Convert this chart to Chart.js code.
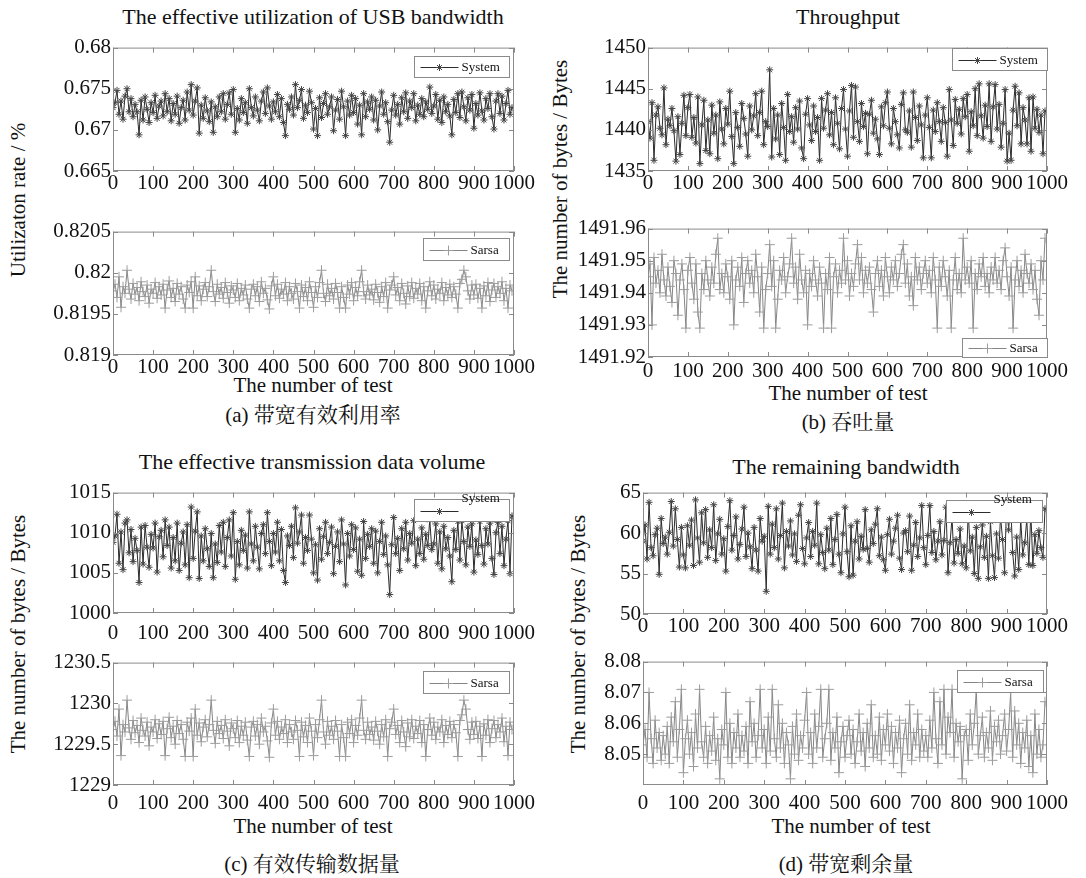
<!DOCTYPE html>
<html>
<head>
<meta charset="utf-8">
<script src="https://cdn.jsdelivr.net/npm/chart.js@4"></script>
<style>
  body { margin: 0; background: #fff; width: 1086px; height: 878px; position: relative; overflow: hidden;
         font-family: "Liberation Serif", "Noto Serif CJK SC", "Noto Sans CJK SC", serif; color: #111; }
  canvas { position: absolute; }
  .t { position: absolute; white-space: nowrap; transform: translate(-50%, -50%); font-size: 21px; }
  .ttl { font-size: 22px; }
  .cap { font-size: 21px; }
  .r { transform: translate(-50%, -50%) rotate(-90deg); }
</style>
</head>
<body>

<div class="t ttl" style="left:313px;top:17px">The effective utilization of USB bandwidth</div>
<div class="t r" style="left:18px;top:200px">Utilizaton rate / %</div>
<div class="t" style="left:313px;top:385px">The number of test</div>
<div class="t cap" style="left:313px;top:413px">(a) 带宽有效利用率</div>

<div class="t ttl" style="left:848px;top:17px">Throughput</div>
<div class="t r" style="left:560px;top:179px">The number of bytes / Bytes</div>
<div class="t" style="left:848px;top:393px">The number of test</div>
<div class="t cap" style="left:848px;top:420px">(b) 吞吐量</div>

<div class="t ttl" style="left:312px;top:462px">The effective transmission data volume</div>
<div class="t r" style="left:18px;top:634px">The number of bytes / Bytes</div>
<div class="t" style="left:313px;top:826px">The number of test</div>
<div class="t cap" style="left:312px;top:862px">(c) 有效传输数据量</div>

<div class="t ttl" style="left:846px;top:467px">The remaining bandwidth</div>
<div class="t r" style="left:578px;top:634px">The number of bytes / Bytes</div>
<div class="t" style="left:851px;top:826px">The number of test</div>
<div class="t cap" style="left:846px;top:862px">(d) 带宽剩余量</div>

<canvas id="a1"></canvas>
<canvas id="a2"></canvas>
<canvas id="b1"></canvas>
<canvas id="b2"></canvas>
<canvas id="c1"></canvas>
<canvas id="c2"></canvas>
<canvas id="d1"></canvas>
<canvas id="d2"></canvas>

<script>
// test number (sampled every 5 tests)
const testIndex = [0,5,10,15,20,25,30,35,40,45,50,55,60,65,70,75,80,85,90,95,
  100,105,110,115,120,125,130,135,140,145,150,155,160,165,170,175,180,185,190,195,
  200,205,210,215,220,225,230,235,240,245,250,255,260,265,270,275,280,285,290,295,
  300,305,310,315,320,325,330,335,340,345,350,355,360,365,370,375,380,385,390,395,
  400,405,410,415,420,425,430,435,440,445,450,455,460,465,470,475,480,485,490,495,
  500,505,510,515,520,525,530,535,540,545,550,555,560,565,570,575,580,585,590,595,
  600,605,610,615,620,625,630,635,640,645,650,655,660,665,670,675,680,685,690,695,
  700,705,710,715,720,725,730,735,740,745,750,755,760,765,770,775,780,785,790,795,
  800,805,810,815,820,825,830,835,840,845,850,855,860,865,870,875,880,885,890,895,
  900,905,910,915,920,925,930,935,940,945,950,955,960,965,970,975,980,985,990,995];

const xTicks = [0,100,200,300,400,500,600,700,800,900,1000];
const xTickLabels = ['0','100','200','300','400','500','600','700','800','900','1000'];

// (a) effective utilization of USB bandwidth
const utilSystem = [
  0.6727,0.6733,0.6748,0.6719,0.6735,0.6713,0.6741,0.6750,0.6722,0.6738,
  0.6716,0.6731,0.6722,0.6694,0.6736,0.6712,0.6740,0.6725,0.6709,0.6733,
  0.6721,0.6742,0.6714,0.6729,0.6735,0.6717,0.6744,0.6722,0.6738,0.6711,
  0.6732,0.6719,0.6741,0.6708,0.6727,0.6736,0.6712,0.6746,0.6724,0.6755,
  0.6718,0.6735,0.6751,0.6696,0.6730,0.6714,0.6739,0.6723,0.6710,0.6734,
  0.6697,0.6728,0.6716,0.6740,0.6722,0.6744,0.6713,0.6731,0.6745,0.6719,
  0.6749,0.6697,0.6726,0.6712,0.6738,0.6721,0.6733,0.6708,0.6750,0.6727,
  0.6717,0.6740,0.6724,0.6711,0.6735,0.6746,0.6720,0.6751,0.6729,0.6713,
  0.6734,0.6722,0.6743,0.6716,0.6738,0.6709,0.6693,0.6731,0.6725,0.6740,
  0.6718,0.6755,0.6727,0.6736,0.6749,0.6714,0.6730,0.6721,0.6747,0.6733,
  0.6701,0.6726,0.6693,0.6739,0.6715,0.6732,0.6744,0.6719,0.6728,0.6740,
  0.6699,0.6724,0.6737,0.6713,0.6747,0.6728,0.6693,0.6735,0.6718,0.6742,
  0.6721,0.6738,0.6707,0.6730,0.6694,0.6744,0.6716,0.6734,0.6725,0.6740,
  0.6712,0.6736,0.6700,0.6729,0.6746,0.6719,0.6733,0.6710,0.6685,0.6724,
  0.6742,0.6718,0.6731,0.6707,0.6739,0.6722,0.6745,0.6714,0.6735,0.6727,
  0.6744,0.6711,0.6730,0.6719,0.6738,0.6716,0.6734,0.6725,0.6752,0.6720,
  0.6729,0.6743,0.6713,0.6736,0.6709,0.6740,0.6722,0.6731,0.6717,0.6694,
  0.6737,0.6721,0.6744,0.6715,0.6746,0.6728,0.6711,0.6739,0.6724,0.6743,
  0.6702,0.6732,0.6718,0.6745,0.6723,0.6712,0.6738,0.6726,0.6744,0.6716,
  0.6701,0.6735,0.6744,0.6720,0.6741,0.6712,0.6732,0.6748,0.6719,0.6727];
const utilSarsa = [
  0.81978,0.81986,0.81970,0.81995,0.81958,0.81983,0.81975,0.82003,0.81980,0.81968,
  0.81987,0.81974,0.81982,0.81966,0.81989,0.81977,0.81971,0.81985,0.81963,0.81980,
  0.81975,0.81988,0.81969,0.81983,0.81973,0.81986,0.81957,0.81979,0.81990,0.81970,
  0.81981,0.81965,0.81987,0.81974,0.81983,0.81968,0.81957,0.81985,0.81976,0.81989,
  0.81957,0.81995,0.81972,0.81984,0.81966,0.81980,0.81988,0.81971,0.81983,0.82003,
  0.81977,0.81965,0.81986,0.81974,0.81982,0.81969,0.81988,0.81976,0.81963,0.81984,
  0.81979,0.81970,0.81987,0.81966,0.81981,0.81973,0.81985,0.81968,0.81957,0.81980,
  0.81986,0.81972,0.81983,0.81965,0.81989,0.81975,0.81981,0.81967,0.81956,0.81984,
  0.81995,0.81972,0.81986,0.81969,0.81980,0.81974,0.81988,0.81966,0.81983,0.81975,
  0.81968,0.81987,0.81977,0.81957,0.81985,0.81971,0.81982,0.81966,0.81989,0.81976,
  0.81958,0.81983,0.81970,0.81988,0.82003,0.81975,0.81965,0.81986,0.81972,0.81981,
  0.81968,0.81987,0.81976,0.81957,0.81983,0.81970,0.81957,0.81985,0.81974,0.81988,
  0.81966,0.81982,0.81972,0.81989,0.82003,0.81977,0.81968,0.81985,0.81973,0.81980,
  0.81967,0.81986,0.81976,0.81964,0.81983,0.81971,0.81988,0.81957,0.81979,0.81985,
  0.81995,0.81973,0.81982,0.81966,0.81987,0.81975,0.81962,0.81984,0.81971,0.81988,
  0.81969,0.81981,0.81974,0.81987,0.81966,0.81983,0.81957,0.81978,0.81989,0.81972,
  0.81985,0.81968,0.81980,0.81975,0.81988,0.81966,0.81982,0.81973,0.81986,0.81970,
  0.81983,0.81974,0.81957,0.81987,0.81992,0.82003,0.81995,0.81978,0.81968,0.81985,
  0.81973,0.81986,0.81969,0.81981,0.81957,0.81984,0.81972,0.81988,0.81965,0.81979,
  0.81987,0.81970,0.81983,0.81975,0.81989,0.81966,0.81981,0.81957,0.81985,0.81978];

// (b) throughput
const thrSystem = [
  1441.0,1439.0,1443.3,1436.3,1441.8,1442.8,1440.2,1439.4,1445.1,1438.2,
  1441.3,1440.5,1442.6,1439.9,1436.2,1441.6,1437.0,1440.8,1444.2,1439.3,
  1442.7,1444.3,1439.1,1441.5,1438.4,1444.0,1435.9,1440.6,1443.6,1437.5,
  1441.2,1437.1,1443.0,1439.6,1441.8,1436.5,1443.4,1440.1,1438.3,1442.6,
  1440.7,1444.7,1439.2,1435.9,1442.1,1440.3,1438.0,1443.2,1441.4,1439.5,
  1436.8,1442.9,1440.0,1441.7,1444.4,1439.3,1442.1,1444.7,1438.2,1441.0,
  1440.4,1447.3,1436.7,1442.6,1438.9,1441.8,1437.0,1443.2,1440.3,1436.3,
  1444.3,1439.8,1441.6,1438.5,1442.7,1440.1,1443.5,1437.8,1436.5,1441.9,
  1443.8,1440.6,1438.7,1442.9,1439.8,1441.5,1436.3,1443.8,1440.2,1442.4,
  1444.4,1439.4,1442.1,1438.2,1443.9,1440.8,1437.7,1442.6,1444.9,1440.1,
  1436.8,1442.3,1445.4,1439.1,1445.2,1441.0,1438.6,1443.2,1440.4,1442.0,
  1437.1,1441.9,1443.6,1439.6,1441.3,1438.9,1437.0,1442.8,1440.5,1443.3,
  1444.6,1440.2,1438.3,1442.6,1441.0,1439.4,1437.8,1443.1,1444.5,1440.0,
  1439.7,1442.3,1437.9,1444.6,1441.5,1438.7,1442.9,1440.6,1436.6,1441.8,
  1443.9,1440.3,1436.6,1442.4,1439.8,1443.3,1441.0,1438.6,1442.7,1440.9,
  1436.8,1444.9,1441.2,1438.1,1443.7,1440.8,1442.5,1439.5,1443.8,1441.6,
  1444.3,1437.4,1442.2,1440.5,1445.0,1439.3,1445.6,1441.7,1439.0,1443.0,
  1440.4,1445.6,1438.6,1442.8,1445.5,1440.1,1443.1,1437.9,1440.8,1444.9,
  1436.2,1439.6,1436.3,1442.4,1445.3,1440.5,1444.5,1438.3,1442.7,1441.2,
  1438.3,1443.9,1437.4,1444.0,1440.2,1442.5,1439.7,1441.8,1437.1,1442.3];
const thrSarsa = [
  1491.945,1491.949,1491.930,1491.951,1491.943,1491.947,1491.940,1491.952,1491.944,1491.939,
  1491.948,1491.942,1491.937,1491.950,1491.946,1491.933,1491.944,1491.949,1491.941,1491.929,
  1491.947,1491.951,1491.943,1491.938,1491.949,1491.934,1491.929,1491.946,1491.941,1491.950,
  1491.944,1491.939,1491.948,1491.943,1491.952,1491.957,1491.941,1491.946,1491.940,1491.949,
  1491.945,1491.938,1491.950,1491.930,1491.944,1491.948,1491.942,1491.951,1491.937,1491.946,
  1491.950,1491.943,1491.947,1491.940,1491.952,1491.945,1491.934,1491.948,1491.929,1491.941,
  1491.946,1491.955,1491.942,1491.950,1491.929,1491.938,1491.947,1491.944,1491.951,1491.940,
  1491.945,1491.949,1491.957,1491.943,1491.948,1491.938,1491.952,1491.944,1491.940,1491.947,
  1491.930,1491.946,1491.942,1491.950,1491.944,1491.939,1491.948,1491.943,1491.929,1491.946,
  1491.941,1491.951,1491.929,1491.945,1491.949,1491.940,1491.947,1491.943,1491.957,1491.944,
  1491.950,1491.939,1491.946,1491.942,1491.949,1491.955,1491.944,1491.951,1491.940,1491.947,
  1491.943,1491.948,1491.941,1491.934,1491.946,1491.950,1491.942,1491.947,1491.939,1491.951,
  1491.945,1491.940,1491.948,1491.944,1491.950,1491.942,1491.946,1491.952,1491.955,1491.943,
  1491.949,1491.939,1491.945,1491.936,1491.951,1491.944,1491.948,1491.941,1491.946,1491.950,
  1491.943,1491.947,1491.940,1491.951,1491.944,1491.929,1491.948,1491.942,1491.950,1491.945,
  1491.939,1491.947,1491.929,1491.944,1491.951,1491.941,1491.946,1491.940,1491.957,1491.944,
  1491.948,1491.943,1491.950,1491.929,1491.946,1491.941,1491.949,1491.945,1491.951,1491.942,
  1491.946,1491.940,1491.948,1491.944,1491.951,1491.943,1491.947,1491.941,1491.950,1491.954,
  1491.945,1491.939,1491.948,1491.929,1491.944,1491.950,1491.942,1491.947,1491.940,1491.952,
  1491.946,1491.943,1491.949,1491.941,1491.947,1491.938,1491.933,1491.950,1491.944,1491.957];

// (c) effective transmission data volume
const volSystem = [
  1008.8,1009.6,1012.3,1006.2,1010.1,1005.4,1011.2,1011.6,1007.5,1010.4,
  1006.4,1009.3,1007.8,1003.8,1010.7,1006.1,1010.9,1008.2,1005.7,1009.8,
  1008.1,1011.2,1005.1,1009.5,1010.3,1007.0,1011.6,1008.4,1010.7,1005.6,
  1009.4,1006.5,1011.2,1005.3,1008.7,1010.1,1006.0,1011.0,1004.4,1013.2,
  1006.8,1010.2,1012.6,1004.3,1009.6,1006.5,1010.5,1008.0,1005.8,1009.9,
  1004.4,1008.6,1006.3,1010.9,1007.6,1011.3,1005.8,1009.4,1011.6,1007.1,
  1012.5,1004.2,1008.9,1006.0,1010.3,1007.8,1009.7,1005.6,1012.6,1008.6,
  1006.5,1010.8,1008.2,1005.5,1009.9,1011.0,1007.4,1012.5,1008.9,1005.9,
  1009.9,1007.6,1011.3,1006.5,1010.4,1005.3,1003.8,1009.6,1008.4,1010.8,
  1006.9,1013.1,1008.7,1010.1,1012.2,1006.2,1009.4,1007.8,1012.2,1009.2,
  1005.0,1008.5,1004.1,1010.5,1006.7,1009.5,1011.3,1007.4,1008.8,1010.7,
  1004.9,1008.3,1010.1,1006.4,1011.6,1008.6,1003.5,1009.9,1007.1,1011.0,
  1007.9,1010.6,1005.2,1009.2,1004.7,1011.4,1006.8,1009.8,1008.3,1010.5,
  1006.2,1010.2,1005.0,1008.9,1011.3,1007.3,1009.6,1006.0,1002.3,1008.5,
  1011.9,1007.4,1009.3,1005.3,1010.5,1008.0,1011.3,1006.6,1009.9,1008.7,
  1011.5,1005.9,1009.2,1007.4,1010.6,1006.7,1009.8,1008.4,1011.6,1007.9,
  1008.6,1011.1,1006.2,1010.1,1005.5,1010.8,1008.0,1009.4,1007.1,1003.9,
  1010.3,1007.9,1011.4,1006.6,1011.5,1008.9,1006.0,1010.7,1008.3,1011.1,
  1005.1,1009.1,1007.3,1011.4,1008.4,1006.1,1010.5,1008.6,1011.2,1006.8,
  1004.8,1010.0,1011.3,1007.4,1010.8,1005.9,1009.2,1011.5,1004.9,1012.1];
const volSarsa = [
  1229.68,1229.78,1229.60,1229.93,1229.36,1229.74,1229.65,1230.04,1229.70,1229.56,
  1229.79,1229.64,1229.73,1229.52,1229.82,1229.67,1229.60,1229.77,1229.48,1229.71,
  1229.65,1229.80,1229.57,1229.75,1229.62,1229.78,1229.36,1229.69,1229.83,1229.58,
  1229.72,1229.50,1229.79,1229.63,1229.74,1229.56,1229.35,1229.77,1229.66,1229.82,
  1229.35,1229.93,1229.61,1229.76,1229.53,1229.71,1229.80,1229.59,1229.74,1230.04,
  1229.67,1229.51,1229.78,1229.63,1229.73,1229.57,1229.80,1229.66,1229.48,1229.76,
  1229.69,1229.58,1229.79,1229.52,1229.72,1229.61,1229.77,1229.55,1229.35,1229.71,
  1229.78,1229.60,1229.74,1229.50,1229.82,1229.65,1229.72,1229.54,1229.34,1229.76,
  1229.93,1229.61,1229.78,1229.56,1229.71,1229.63,1229.80,1229.52,1229.74,1229.65,
  1229.56,1229.79,1229.67,1229.35,1229.77,1229.59,1229.73,1229.52,1229.82,1229.66,
  1229.36,1229.74,1229.58,1229.80,1230.04,1229.65,1229.50,1229.78,1229.61,1229.72,
  1229.56,1229.79,1229.66,1229.35,1229.74,1229.58,1229.35,1229.77,1229.63,1229.80,
  1229.52,1229.73,1229.61,1229.82,1230.04,1229.67,1229.56,1229.77,1229.62,1229.71,
  1229.55,1229.78,1229.66,1229.50,1229.74,1229.59,1229.80,1229.35,1229.69,1229.77,
  1229.93,1229.62,1229.73,1229.52,1229.79,1229.65,1229.47,1229.76,1229.59,1229.80,
  1229.57,1229.72,1229.63,1229.79,1229.52,1229.74,1229.35,1229.68,1229.82,1229.61,
  1229.77,1229.56,1229.71,1229.65,1229.80,1229.52,1229.73,1229.62,1229.78,1229.58,
  1229.74,1229.64,1229.35,1229.79,1229.86,1230.04,1229.93,1229.68,1229.56,1229.77,
  1229.62,1229.78,1229.57,1229.72,1229.35,1229.75,1229.61,1229.80,1229.52,1229.69,
  1229.79,1229.58,1229.74,1229.65,1229.82,1229.53,1229.72,1229.36,1229.77,1229.68];

// (d) remaining bandwidth
const remSystem = [
  59.0,61.0,56.8,63.8,58.2,57.2,59.8,60.6,54.9,61.8,
  58.7,59.5,57.4,60.1,63.9,58.4,63.0,59.2,55.8,60.7,
  57.3,55.7,60.9,58.5,61.6,56.0,64.1,59.4,56.4,62.5,
  58.8,62.9,57.0,60.4,58.2,63.5,56.6,59.9,61.7,57.4,
  59.3,55.3,60.8,64.0,57.9,59.7,62.0,56.8,58.6,60.5,
  63.2,57.1,60.0,58.3,55.6,60.7,57.9,55.3,61.8,59.0,
  59.6,52.8,63.3,57.4,61.1,58.2,63.0,56.8,59.7,63.7,
  55.7,60.2,58.4,61.5,57.3,59.9,56.5,62.2,63.5,58.1,
  56.2,59.4,61.3,57.1,60.2,58.5,63.7,56.2,59.8,57.6,
  55.6,60.6,57.9,61.8,56.1,59.2,62.3,57.4,55.1,59.9,
  63.2,57.7,54.6,60.9,54.8,59.0,61.4,56.8,59.6,58.0,
  62.9,58.1,56.4,60.4,58.7,61.1,63.0,57.2,59.5,56.7,
  55.4,59.8,61.7,57.4,59.0,60.6,62.2,56.9,55.5,60.0,
  60.3,57.7,62.1,55.4,58.5,61.3,57.1,59.4,63.4,58.2,
  56.1,59.7,63.4,57.6,60.2,56.7,59.0,61.4,57.3,59.1,
  63.2,55.1,58.8,61.9,56.3,59.2,57.5,60.5,56.2,58.4,
  55.7,62.6,57.8,59.5,55.0,60.7,54.4,58.3,61.0,57.0,
  59.6,54.4,61.4,57.2,54.5,59.9,56.9,62.1,59.2,55.1,
  63.8,60.4,63.7,57.6,54.7,59.5,55.5,61.7,57.3,58.8,
  61.7,56.1,62.6,56.0,59.8,57.5,60.3,58.2,57.0,63.0];
const remSarsa = [
  8.053,8.058,8.049,8.070,8.055,8.047,8.061,8.052,8.057,8.048,
  8.056,8.050,8.059,8.047,8.062,8.054,8.067,8.049,8.058,8.071,
  8.044,8.055,8.061,8.050,8.057,8.046,8.063,8.052,8.071,8.054,
  8.049,8.059,8.047,8.056,8.051,8.062,8.048,8.055,8.042,8.058,
  8.053,8.070,8.049,8.060,8.047,8.057,8.052,8.063,8.049,8.056,
  8.051,8.059,8.047,8.067,8.054,8.060,8.049,8.056,8.071,8.052,
  8.058,8.047,8.062,8.051,8.071,8.055,8.049,8.066,8.052,8.060,
  8.047,8.057,8.053,8.042,8.059,8.050,8.063,8.048,8.056,8.052,
  8.061,8.070,8.050,8.057,8.047,8.063,8.052,8.059,8.071,8.049,
  8.055,8.060,8.071,8.048,8.057,8.052,8.062,8.044,8.054,8.059,
  8.049,8.056,8.061,8.050,8.058,8.047,8.054,8.063,8.051,8.057,
  8.046,8.060,8.052,8.066,8.049,8.056,8.050,8.062,8.048,8.058,
  8.053,8.063,8.051,8.059,8.047,8.057,8.052,8.061,8.044,8.055,
  8.060,8.050,8.066,8.048,8.057,8.053,8.063,8.049,8.058,8.051,
  8.056,8.049,8.061,8.052,8.070,8.055,8.047,8.067,8.053,8.071,
  8.050,8.062,8.057,8.071,8.049,8.060,8.054,8.059,8.042,8.056,
  8.058,8.048,8.063,8.053,8.060,8.071,8.050,8.056,8.062,8.049,
  8.057,8.052,8.064,8.048,8.059,8.054,8.061,8.050,8.056,8.063,
  8.051,8.058,8.070,8.049,8.064,8.053,8.060,8.047,8.057,8.052,
  8.061,8.046,8.056,8.044,8.063,8.050,8.058,8.049,8.053,8.067];

// y axis ticks
const utilSysTicks = [0.665, 0.67, 0.675, 0.68];
const utilSysLabels = ['0.665', '0.67', '0.675', '0.68'];
const utilSarsaTicks = [0.819, 0.8195, 0.82, 0.8205];
const utilSarsaLabels = ['0.819', '0.8195', '0.82', '0.8205'];
const thrSysTicks = [1435, 1440, 1445, 1450];
const thrSysLabels = ['1435', '1440', '1445', '1450'];
const thrSarsaTicks = [1491.92, 1491.93, 1491.94, 1491.95, 1491.96];
const thrSarsaLabels = ['1491.92', '1491.93', '1491.94', '1491.95', '1491.96'];
const volSysTicks = [1000, 1005, 1010, 1015];
const volSysLabels = ['1000', '1005', '1010', '1015'];
const volSarsaTicks = [1229, 1229.5, 1230, 1230.5];
const volSarsaLabels = ['1229', '1229.5', '1230', '1230.5'];
const remSysTicks = [50, 55, 60, 65];
const remSysLabels = ['50', '55', '60', '65'];
const remSarsaTicks = [8.05, 8.06, 8.07, 8.08];
const remSarsaLabels = ['8.05', '8.06', '8.07', '8.08'];

const YW = 110, XH = 34, PT = 10, PR = 32;
const FONT = 'Liberation Serif';

function marker(ctx, style, x, y, r) {
  ctx.beginPath();
  ctx.moveTo(x - r, y); ctx.lineTo(x + r, y);
  ctx.moveTo(x, y - r); ctx.lineTo(x, y + r);
  if (style === 'star') {
    const d = r * 0.707;
    ctx.moveTo(x - d, y - d); ctx.lineTo(x + d, y + d);
    ctx.moveTo(x - d, y + d); ctx.lineTo(x + d, y - d);
  }
  ctx.stroke();
}

// box, inward ticks and legend in the matlab style
const frame = {
  id: 'frame',
  afterDatasetsDraw(chart, args, o) {
    const { ctx, chartArea: a, scales: { x, y } } = chart;
    ctx.save();
    ctx.strokeStyle = '#8a8a8a';
    ctx.lineWidth = 1;
    ctx.strokeRect(a.left + 0.5, a.top + 0.5, a.right - a.left - 1, a.bottom - a.top - 1);
    ctx.beginPath();
    x.ticks.forEach(t => {
      const px = Math.round(x.getPixelForValue(t.value)) + 0.5;
      ctx.moveTo(px, a.bottom); ctx.lineTo(px, a.bottom - 5);
      ctx.moveTo(px, a.top); ctx.lineTo(px, a.top + 5);
    });
    y.ticks.forEach(t => {
      const py = Math.round(y.getPixelForValue(t.value)) + 0.5;
      ctx.moveTo(a.left, py); ctx.lineTo(a.left + 5, py);
      ctx.moveTo(a.right, py); ctx.lineTo(a.right - 5, py);
    });
    ctx.stroke();

    const L = o.legend, ds = chart.data.datasets[0];
    const bx = Math.round(a.right - L.right - L.w) + 0.5;
    const by = Math.round(L.top != null ? a.top + L.top : a.bottom - L.bottom - L.h) + 0.5;
    ctx.fillStyle = '#fff';
    ctx.fillRect(bx, by, L.w, L.h);
    ctx.strokeStyle = '#8a8a8a';
    ctx.strokeRect(bx, by, L.w, L.h);
    const my = Math.round(by + L.h / 2) + 0.5;
    ctx.strokeStyle = ds.borderColor;
    ctx.beginPath(); ctx.moveTo(bx + 6, my); ctx.lineTo(bx + 44, my); ctx.stroke();
    ctx.strokeStyle = ds.pointBorderColor;
    marker(ctx, ds.pointStyle, bx + 25, my, ds.pointRadius);
    ctx.fillStyle = '#111';
    ctx.font = '13px "' + FONT + '"';
    ctx.textBaseline = 'middle';
    ctx.fillText(L.label, bx + 47, L.above ? by - 1 : my);
    ctx.restore();
  }
};

function plot(id, box, s) {
  const cv = document.getElementById(id);
  cv.width = box.r - box.l + YW + PR;
  cv.height = box.b - box.t + PT + XH;
  cv.style.left = (box.l - YW) + 'px';
  cv.style.top = (box.t - PT) + 'px';
  const tickFont = { family: FONT, size: 21 };
  new Chart(cv, {
    type: 'line',
    data: {
      datasets: [{
        data: testIndex.map((t, i) => ({ x: t, y: s.values[i] })),
        borderColor: s.line,
        borderWidth: 1,
        pointStyle: s.marker,
        pointRadius: s.radius,
        pointBorderColor: s.point,
        pointBorderWidth: 1,
        pointBackgroundColor: 'rgba(0,0,0,0)',
        tension: 0
      }]
    },
    options: {
      responsive: false,
      animation: false,
      events: [],
      layout: { padding: { top: PT, right: PR, left: 0, bottom: 0 } },
      plugins: { legend: { display: false }, tooltip: { enabled: false }, frame: { legend: s.legend } },
      scales: {
        x: {
          type: 'linear', min: 0, max: 1000,
          afterBuildTicks: sc => { sc.ticks = xTicks.map(v => ({ value: v })); },
          afterFit: sc => { sc.height = XH; },
          ticks: { callback: (v, i) => xTickLabels[i], autoSkip: false, maxRotation: 0,
                   padding: s.xPad, color: '#111', font: tickFont },
          grid: { display: false, drawTicks: false },
          border: { display: false }
        },
        y: {
          type: 'linear', min: s.min, max: s.max,
          afterBuildTicks: sc => { sc.ticks = s.ticks.map(v => ({ value: v })); },
          afterFit: sc => { sc.width = YW; },
          ticks: { callback: (v, i) => s.labels[i], padding: 2, color: '#111', font: tickFont },
          grid: { display: false, drawTicks: false },
          border: { display: false }
        }
      }
    },
    plugins: [frame]
  });
}

const sys = { line: '#2c2c2c', point: '#444444', marker: 'star', radius: 3.5 };
const sar = { line: '#858585', point: '#9c9c9c', marker: 'cross', radius: 5 };

plot('a1', { l: 113, t: 43, r: 514, b: 171 }, Object.assign({}, sys, {
  values: utilSystem, min: 0.665, max: 0.68, ticks: utilSysTicks, labels: utilSysLabels, xPad: 0,
  legend: { label: 'System', w: 95, h: 21, right: 5, top: 8 } }));
plot('a2', { l: 113, t: 227, r: 514, b: 355 }, Object.assign({}, sar, {
  values: utilSarsa, min: 0.819, max: 0.8205, ticks: utilSarsaTicks, labels: utilSarsaLabels, xPad: 0,
  legend: { label: 'Sarsa', w: 86, h: 22, right: 5, top: 6 } }));
plot('b1', { l: 648, t: 43, r: 1047, b: 171 }, Object.assign({}, sys, {
  values: thrSystem, min: 1435, max: 1450, ticks: thrSysTicks, labels: thrSysLabels, xPad: 0,
  legend: { label: 'System', w: 95, h: 22, right: 0, top: 0 } }));
plot('b2', { l: 648, t: 224, r: 1047, b: 357 }, Object.assign({}, sar, {
  values: thrSarsa, min: 1491.92, max: 1491.96, ticks: thrSarsaTicks, labels: thrSarsaLabels, xPad: 2,
  legend: { label: 'Sarsa', w: 85, h: 19, right: 0, bottom: 0 } }));
plot('c1', { l: 113, t: 488, r: 514, b: 613 }, Object.assign({}, sys, {
  values: volSystem, min: 1000, max: 1015, ticks: volSysTicks, labels: volSysLabels, xPad: 8,
  legend: { label: 'System', w: 95, h: 22, right: 5, top: 6, above: true } }));
plot('c2', { l: 113, t: 658, r: 514, b: 785 }, Object.assign({}, sar, {
  values: volSarsa, min: 1229, max: 1230.5, ticks: volSarsaTicks, labels: volSarsaLabels, xPad: 6,
  legend: { label: 'Sarsa', w: 86, h: 22, right: 5, top: 8 } }));
plot('d1', { l: 643, t: 488, r: 1047, b: 614 }, Object.assign({}, sys, {
  values: remSystem, min: 50, max: 65, ticks: remSysTicks, labels: remSysLabels, xPad: 0,
  legend: { label: 'System', w: 96, h: 22, right: 5, top: 7, above: true } }));
plot('d2', { l: 643, t: 657, r: 1047, b: 785 }, Object.assign({}, sar, {
  values: remSarsa, min: 8.04, max: 8.08, ticks: remSarsaTicks, labels: remSarsaLabels, xPad: 6,
  legend: { label: 'Sarsa', w: 86, h: 22, right: 4, top: 8 } }));
</script>
</body>
</html>
